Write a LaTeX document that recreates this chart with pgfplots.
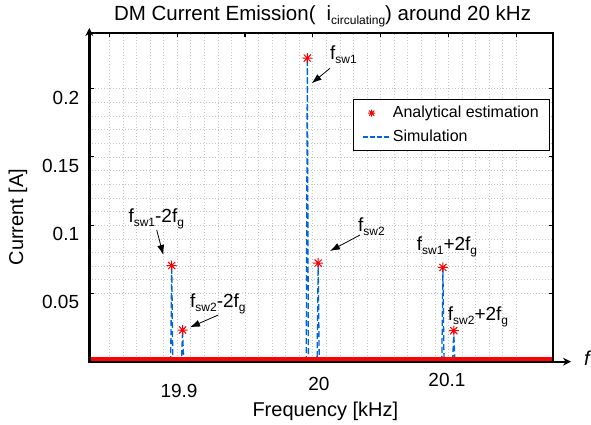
\documentclass[border=0pt]{standalone}
\usepackage{fontspec}
\setmainfont{Liberation Sans}
\usepackage{pgfplots}
\pgfplotsset{compat=1.18}
\usetikzlibrary{arrows.meta}
\definecolor{simblue}{RGB}{0,100,220}
\newcommand{\sub}[1]{\raisebox{-4pt}{\fontsize{12}{12}\selectfont #1}}
\pgfdeclareplotmark{mstar}{%
 \pgfpathmoveto{\pgfqpoint{-\pgfplotmarksize}{0pt}}\pgfpathlineto{\pgfqpoint{\pgfplotmarksize}{0pt}}%
 \pgfpathmoveto{\pgfqpoint{0pt}{-\pgfplotmarksize}}\pgfpathlineto{\pgfqpoint{0pt}{\pgfplotmarksize}}%
 \pgfpathmoveto{\pgfqpoint{-0.707\pgfplotmarksize}{-0.707\pgfplotmarksize}}\pgfpathlineto{\pgfqpoint{0.707\pgfplotmarksize}{0.707\pgfplotmarksize}}%
 \pgfpathmoveto{\pgfqpoint{-0.707\pgfplotmarksize}{0.707\pgfplotmarksize}}\pgfpathlineto{\pgfqpoint{0.707\pgfplotmarksize}{-0.707\pgfplotmarksize}}%
 \pgfusepathqstroke}
\pgfplotsset{
 starleg/.style={legend image code/.code={\draw[##1, mark size=3.5pt] plot coordinates {(9pt,0pt)};}},
 simleg/.style={legend image code/.code={\draw[##1, dash pattern=on 5pt off 2.2pt] (0pt,0pt) -- (28pt,0pt);}},
}
\begin{document}
\begin{tikzpicture}[x=1pt,y=1pt]
\useasboundingbox (0,0) rectangle (591,424);
\begin{axis}[
 at={(89.3pt,62.3pt)}, anchor=south west,
 scale only axis, width=463.7pt, height=329.2pt,
 xmin=19.8352, xmax=20.1772, ymin=0, ymax=0.241,
 axis lines=box,
 xtick={19.85,19.9,19.95,20,20.05,20.1,20.15}, xticklabels={},
 extra x ticks={19.9014,20.0046,20.099},
 extra x tick labels={\raisebox{-10.7pt}{19.9},\raisebox{-4pt}{20},20.1},
 extra x tick style={grid=none, major tick length=0pt, xticklabel style={anchor=base, yshift=-25.1pt, inner sep=0pt}},
 ytick={0.05,0.1,0.15,0.2}, yticklabels={0.05,0.1,0.15,0.2},
 yticklabel style={anchor=east, inner sep=0pt, xshift=-10pt, yshift=-9pt},
 minor x tick num=4, minor y tick num=4,
 grid=both,
 major grid style={gray!45, line width=0.5pt, dash pattern=on 1pt off 2pt},
 minor grid style={gray!45, line width=0.5pt, dash pattern=on 1pt off 2pt},
 tick align=inside, major tick length=4.5pt, minor tick length=0pt,
 tick style={black, line width=1.2pt, solid},
 axis line style={black, line width=1.4pt, solid},
 tick label style={font=\fontsize{19}{22}\selectfont},
 title={DM Current Emission(\hspace{11pt}i\sub{circulating}) around 20 kHz},
 title style={at={(axis description cs:0.503,1.0176)}, anchor=base, inner sep=0pt, font=\fontsize{20.5}{24}\selectfont},
 xlabel={Frequency [kHz]},
 xlabel style={at={(axis description cs:0.509,-0.1519)}, anchor=center, inner sep=0pt, font=\fontsize{20}{24}\selectfont},
 ylabel={Current [A]},
 ylabel style={at={(axis description cs:-0.1538,0.4395)}, anchor=center, inner sep=0pt, font=\fontsize{20}{24}\selectfont},
 legend cell align=left,
 legend style={at={(axis description cs:0.568,0.797)}, anchor=north west, draw=black, line width=0.8pt,
   inner xsep=9pt, inner ysep=3.6pt, row sep=4.5pt, font=\fontsize{16}{19}\selectfont,
   nodes={inner xsep=1.5pt, inner ysep=2pt, text height=12pt, text depth=3.5pt}},
]
\addplot[only marks, mark=mstar, mark size=5pt, red, line width=1pt, starleg]
 coordinates {(19.896,0.0704) (19.904,0.0232) (19.996,0.2223) (20.004,0.0722) (20.096,0.0690) (20.104,0.0227)};
\addlegendentry{Analytical estimation}
\addplot[simblue, line width=1.3pt, dash pattern=on 6pt off 3pt, simleg]
 coordinates {(19.8352,0) (19.8952,0) (19.896,0.0704) (19.8968,0) (19.9032,0) (19.904,0.0232) (19.9048,0)
  (19.9952,0) (19.996,0.2223) (19.9968,0) (20.0032,0) (20.004,0.0722) (20.0048,0)
  (20.0952,0) (20.096,0.0690) (20.0968,0) (20.1032,0) (20.104,0.0227) (20.1048,0) (20.1772,0)};
\addlegendentry{Simulation}
\addplot[red, line width=4pt, forget plot] coordinates {(19.8352,0.0022) (20.1772,0.0022)};
\end{axis}
\draw[black, line width=2pt, solid] (89.3,391.4) -- (553.4,391.4) -- (553.4,62.3);
\draw[line width=2.4pt, solid, -{Stealth[length=8pt,width=8pt]}] (89.3,61.5) -- (89.3,396);
\draw[line width=2.4pt, solid, -{Stealth[length=8pt,width=8pt]}] (88.2,62.3) -- (571,62.3);
\node[font=\fontsize{20}{20}\selectfont\itshape] at (587,66) {f};
\begin{scope}[every node/.style={anchor=base west, inner sep=0pt, font=\fontsize{19}{22}\selectfont}]
\node at (330,364) {f\sub{sw1}};
\node at (358,193) {f\sub{sw2}};
\node at (128.3,202) {f\sub{sw1}-2f\sub{g}};
\node at (190,117) {f\sub{sw2}-2f\sub{g}};
\node at (416.7,174) {f\sub{sw1}+2f\sub{g}};
\node at (447.7,104) {f\sub{sw2}+2f\sub{g}};
\end{scope}
\begin{scope}[line width=0.8pt, solid, -{Latex[length=10pt,width=7pt]}]
\draw (330,355.7) -- (311.7,340.7);
\draw (360,189) -- (330,173);
\draw (156.7,194) -- (163.3,169);
\draw (218.3,109) -- (190,96.7);
\end{scope}
\end{tikzpicture}
\end{document}
